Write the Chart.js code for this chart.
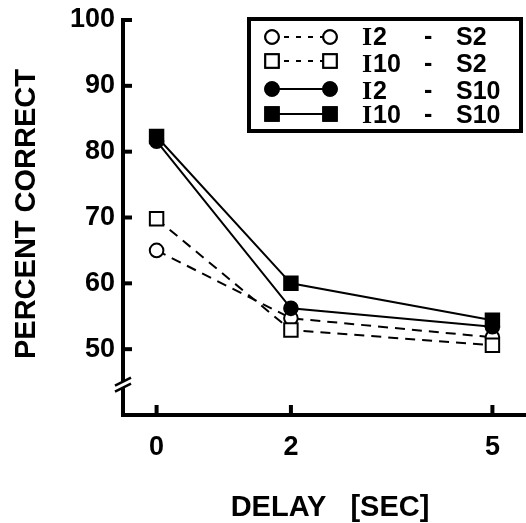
<!DOCTYPE html>
<html>
<head>
<meta charset="utf-8">
<script src="https://cdn.jsdelivr.net/npm/chart.js@4"></script>
<style>
  body { margin: 0; background: #fff; }
  #wrap { width: 526px; height: 523px; }
</style>
</head>
<body>
<div id="wrap"><canvas id="chart" width="526" height="523"></canvas></div>
<script>
// data
var delays = [0, 2, 5];
var i2s2 = [65.0, 54.7, 51.8];
var i10s2 = [69.8, 52.9, 50.6];
var i2s10 = [81.6, 56.2, 53.4];
var i10s10 = [82.3, 60.0, 54.4];
var seriesNames = [["I", "2", "S2"], ["I", "10", "S2"], ["I", "2", "S10"], ["I", "10", "S10"]];
var yTicks = [50, 60, 70, 80, 90, 100];
var xTicks = [0, 2, 5];
var yTitle = "PERCENT CORRECT";
var xTitle = "DELAY   [SEC]";

var sansFont = "'Liberation Sans', Arial, sans-serif";

function points(values) {
  return delays.map(function (d, i) { return { x: d, y: values[i] }; });
}

function series(values, style, filled, dashed, order) {
  return {
    data: points(values),
    borderColor: "#000",
    borderWidth: 2,
    borderDash: dashed ? [10, 7] : [],
    pointStyle: style,
    pointRadius: style === "rect" ? 9.5 : 6.8,
    pointBorderWidth: 2,
    pointBorderColor: "#000",
    pointBackgroundColor: filled ? "#000" : "#fff",
    fill: false,
    tension: 0,
    order: order
  };
}

var datasets = [
  series(i2s2, "circle", false, true, 3),
  series(i10s2, "rect", false, true, 2),
  series(i2s10, "circle", true, false, 1),
  series(i10s10, "rect", true, false, 0)
];

// inward ticks, axis break, titles and the boxed legend
var decorations = {
  id: "decorations",
  afterDraw: function (chart) {
    var ctx = chart.ctx;
    var area = chart.chartArea;
    var xs = chart.scales.x;
    var ys = chart.scales.y;
    ctx.save();
    ctx.strokeStyle = "#000";
    ctx.lineWidth = 4;
    ctx.lineCap = "butt";
    yTicks.forEach(function (v) {
      var py = ys.getPixelForValue(v);
      ctx.beginPath();
      ctx.moveTo(area.left, py);
      ctx.lineTo(area.left + 9, py);
      ctx.stroke();
    });
    xTicks.forEach(function (v) {
      var px = xs.getPixelForValue(v);
      ctx.beginPath();
      ctx.moveTo(px, area.bottom);
      ctx.lineTo(px, area.bottom - 10);
      ctx.stroke();
    });

    // axis break
    var by = ys.getPixelForValue(44.6);
    ctx.fillStyle = "#fff";
    ctx.fillRect(area.left - 4, by - 3, 8, 6);
    ctx.lineWidth = 2.5;
    ctx.beginPath();
    ctx.moveTo(area.left - 8, by + 1);
    ctx.lineTo(area.left + 8, by - 7);
    ctx.moveTo(area.left - 8, by + 7);
    ctx.lineTo(area.left + 8, by - 1);
    ctx.stroke();

    // axis titles
    ctx.fillStyle = "#000";
    ctx.font = "bold 29px " + sansFont;
    ctx.textAlign = "center";
    ctx.textBaseline = "alphabetic";
    ctx.save();
    ctx.translate(35, 214);
    ctx.rotate(-Math.PI / 2);
    ctx.fillText(yTitle, 0, 0);
    ctx.restore();
    ctx.fillText(xTitle, 330, 516);

    // legend box
    var box = { x: 249, y: 19, w: 272, h: 112 };
    ctx.fillStyle = "#fff";
    ctx.fillRect(box.x, box.y, box.w, box.h);
    ctx.lineWidth = 4;
    ctx.strokeStyle = "#000";
    ctx.strokeRect(box.x, box.y, box.w, box.h);

    var rows = [37, 61, 89, 114];
    var baselines = [45, 72, 99, 123];
    datasets.forEach(function (ds, i) {
      var ry = rows[i];
      ctx.lineWidth = 2;
      ctx.setLineDash(ds.borderDash.length ? [5, 7] : []);
      ctx.beginPath();
      ctx.moveTo(272, ry);
      ctx.lineTo(330, ry);
      ctx.stroke();
      ctx.setLineDash([]);
      [272, 330].forEach(function (mx) {
        Chart.helpers.drawPoint(ctx, {
          pointStyle: ds.pointStyle,
          radius: ds.pointRadius,
          borderWidth: 2
        }, mx, ry);
        ctx.fillStyle = ds.pointBackgroundColor;
        ctx.fill();
        ctx.stroke();
      });
      var parts = seriesNames[i];
      var bl = baselines[i];
      ctx.fillStyle = "#000";
      ctx.textAlign = "left";
      ctx.textBaseline = "alphabetic";
      ctx.font = "bold 26px 'Liberation Serif', serif";
      ctx.fillText(parts[0], 362, bl);
      var w = ctx.measureText(parts[0]).width;
      ctx.font = "bold 25px " + sansFont;
      ctx.fillText(parts[1], 362 + w + 1, bl);
      ctx.fillText("-", 424, bl - 1);
      ctx.fillText(parts[2], 456, bl);
    });
    ctx.restore();
  }
};

var chart = new Chart("chart", {
  type: "line",
  data: { datasets: datasets },
  options: {
    responsive: false,
    animation: false,
    layout: { autoPadding: false, padding: { top: 20, right: 0, left: 0, bottom: 0 } },
    plugins: {
      legend: { display: false },
      tooltip: { enabled: false }
    },
    scales: {
      x: {
        type: "linear",
        min: -0.5,
        max: 5.5,
        afterBuildTicks: function (s) { s.ticks = xTicks.map(function (v) { return { value: v }; }); },
        afterFit: function (s) { s.height = 108; s.paddingLeft = 0; s.paddingRight = 0; },
        grid: { display: false, drawTicks: false },
        border: { display: true, color: "#000", width: 4 },
        ticks: { color: "#000", font: { family: sansFont, size: 27, weight: "bold" }, padding: 16, maxRotation: 0 }
      },
      y: {
        min: 40,
        max: 100,
        afterBuildTicks: function (s) { s.ticks = yTicks.map(function (v) { return { value: v }; }); },
        afterFit: function (s) { s.width = 123; s.paddingTop = 0; s.paddingBottom = 0; },
        grid: { display: false, drawTicks: false },
        border: { display: true, color: "#000", width: 4 },
        ticks: { color: "#000", font: { family: sansFont, size: 27, weight: "bold" }, padding: 8 }
      }
    }
  },
  plugins: [decorations]
});
</script>
</body>
</html>
